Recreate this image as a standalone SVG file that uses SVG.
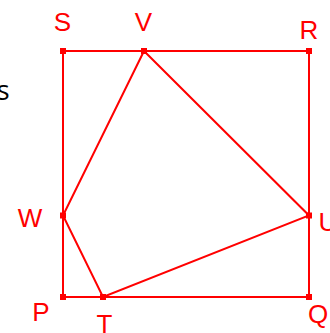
<svg xmlns="http://www.w3.org/2000/svg" width="330" height="333" viewBox="0 0 330 333">
<style>
.ln{stroke:#ff0000;stroke-width:2;fill:none}
.pt{fill:#ff0000}
.lb{font-family:"Liberation Sans",Arial,sans-serif;font-size:26px;fill:#ff0000;text-anchor:middle}
</style>
<rect width="330" height="333" fill="#fff"/>
<text x="9.5" y="100" font-family="'Open Sans',sans-serif" font-size="27" fill="#000" text-anchor="end">s</text>
<g id="connectors">
<polyline class="ln" points="63,51 309,51 309,297 63,297 63,51"/>
<polygon class="ln" points="144,51 309,215.5 103,297 63,215.5"/>
</g>
<g id="S"><rect class="pt" x="60" y="48" width="6" height="6"/><text class="lb" x="62.5" y="31">S</text></g>
<g id="V"><rect class="pt" x="141" y="48" width="6" height="6"/><text class="lb" x="143.5" y="31">V</text></g>
<g id="R"><rect class="pt" x="306" y="48" width="6" height="6"/><text class="lb" x="309" y="39">R</text></g>
<g id="W"><rect class="pt" x="60" y="212.5" width="6" height="6"/><text class="lb" x="30" y="227">W</text></g>
<g id="U"><rect class="pt" x="306" y="212.5" width="6" height="6"/><text class="lb" x="328" y="231">U</text></g>
<g id="P"><rect class="pt" x="60" y="294" width="6" height="6"/><text class="lb" x="41" y="321">P</text></g>
<g id="T"><rect class="pt" x="100" y="294" width="6" height="6"/><text class="lb" x="104.5" y="333">T</text></g>
<g id="Q"><rect class="pt" x="306" y="294" width="6" height="6"/><text class="lb" x="318" y="323">Q</text></g>
</svg>
